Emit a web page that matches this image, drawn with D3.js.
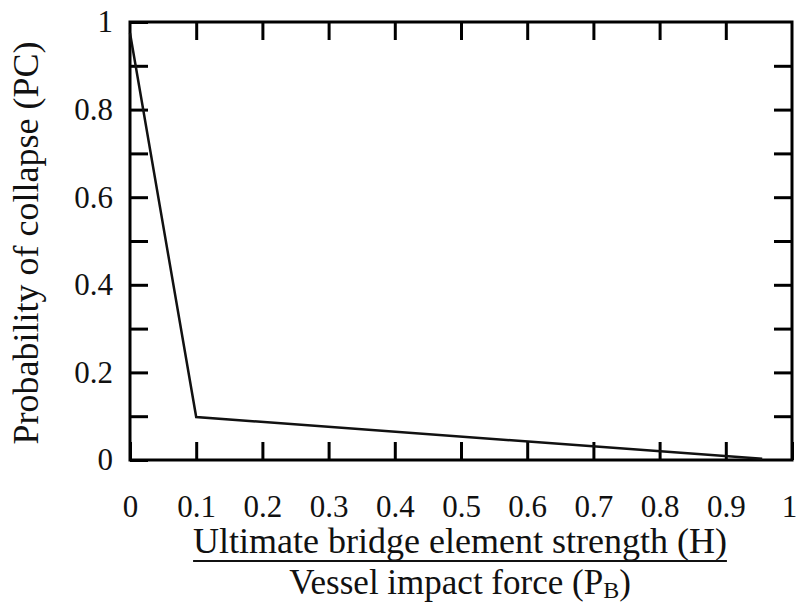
<!DOCTYPE html>
<html>
<head>
<meta charset="utf-8">
<script src="https://cdn.jsdelivr.net/npm/d3@7"></script>
<style>
  body { margin: 0; background: #fff; }
  svg { display: block; }
</style>
</head>
<body>
<svg id="chart"></svg>
<script>
// strength ratio H / PB
var ratio = [0, 0.1, 0.955];
// probability of collapse
var probability = [0.975, 0.098, 0.003];
var xTicks = [0, 0.1, 0.2, 0.3, 0.4, 0.5, 0.6, 0.7, 0.8, 0.9, 1];
var yTicks = [0, 0.1, 0.2, 0.3, 0.4, 0.5, 0.6, 0.7, 0.8, 0.9, 1];
var yLabelTicks = [0, 0.2, 0.4, 0.6, 0.8, 1];

var serif = "Liberation Serif, Times New Roman, Times, DejaVu Serif, Noto Serif, serif";
var svgWidth = 798, svgHeight = 605;
var margin = { top: 22, right: 6, bottom: 145, left: 130 };
var width = svgWidth - margin.left - margin.right;
var height = svgHeight - margin.top - margin.bottom;

var svg = d3.select("#chart")
  .attr("width", svgWidth)
  .attr("height", svgHeight)
  .attr("font-family", serif);

var g = svg.append("g")
  .attr("transform", `translate(${margin.left},${margin.top})`);

var x = d3.scaleLinear().domain([0, 1]).range([0, width]);
var y = d3.scaleLinear().domain([0, 1]).range([height, 0]);

var fmt = d => String(d);
var tickLen = 18;

//axes, ticks point inwards
var axBottom = g.append("g")
  .attr("transform", `translate(0,${height})`)
  .call(d3.axisBottom(x).tickValues(xTicks).tickFormat(fmt).tickSize(-tickLen).tickPadding(35));
var axTop = g.append("g")
  .call(d3.axisTop(x).tickValues(xTicks.slice(1, -1)).tickFormat("").tickSize(-tickLen));
var axLeft = g.append("g")
  .call(d3.axisLeft(y).tickValues(yTicks).tickFormat(d => yLabelTicks.indexOf(d) >= 0 ? fmt(d) : "").tickSize(-tickLen).tickPadding(17));
var axRight = g.append("g")
  .attr("transform", `translate(${width},0)`)
  .call(d3.axisRight(y).tickValues(yTicks.slice(1, -1)).tickFormat("").tickSize(-tickLen));

[axBottom, axTop, axLeft, axRight].forEach(function(a){
  a.attr("font-family", serif).attr("font-size", 31);
  a.select(".domain").remove();
  a.selectAll(".tick line").attr("stroke", "#000").attr("stroke-width", 3);
  a.selectAll(".tick text").attr("fill", "#111");
});
// keep the last label inside the page
axBottom.selectAll(".tick text").filter(d => d === 1).attr("dx", -3);

//frame
g.append("rect")
  .attr("x", 0).attr("y", 0)
  .attr("width", width).attr("height", height)
  .attr("fill", "none")
  .attr("stroke", "#000")
  .attr("stroke-width", 3);

//data line
var line = d3.line()
  .x((d, i) => x(ratio[i]))
  .y(d => y(d));

g.append("path")
  .datum(probability)
  .attr("fill", "none")
  .attr("stroke", "#111")
  .attr("stroke-width", 2.5)
  .attr("stroke-linejoin", "miter")
  .attr("d", line);

//y label
svg.append("text")
  .attr("transform", "translate(38,243) rotate(-90)")
  .attr("text-anchor", "middle")
  .attr("fill", "#111")
  .attr("font-size", 36)
  .text("Probability of collapse (PC)");

//x label as fraction
var cx = 460;
var numer = svg.append("text")
  .attr("x", cx).attr("y", 553)
  .attr("text-anchor", "middle")
  .attr("fill", "#111")
  .attr("font-size", 36)
  .text("Ultimate bridge element strength (H)");
var bb = numer.node().getBBox();
svg.append("line")
  .attr("x1", bb.x).attr("x2", bb.x + bb.width)
  .attr("y1", 561).attr("y2", 561)
  .attr("stroke", "#111").attr("stroke-width", 2);

var denom = svg.append("text")
  .attr("x", cx).attr("y", 594)
  .attr("text-anchor", "middle")
  .attr("fill", "#111")
  .attr("font-size", 35);
denom.append("tspan").text("Vessel impact force (P");
denom.append("tspan").attr("dy", 4).attr("font-size", 24).text("B");
denom.append("tspan").attr("dy", -4).text(")");
</script>
</body>
</html>
